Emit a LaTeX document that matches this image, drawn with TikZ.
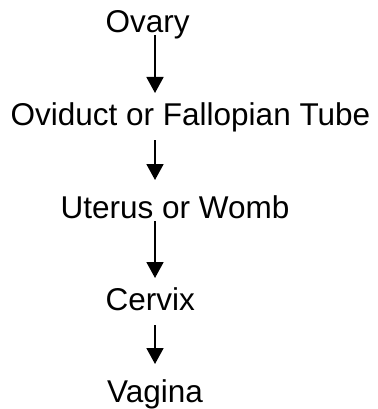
\documentclass[tikz,border=0pt]{standalone}
\usepackage{fontspec}
\setmainfont{Liberation Sans}
\usetikzlibrary{arrows.meta,calc}
\begin{document}
\begin{tikzpicture}[x=1pt,y=-1pt,
  lbl/.style={anchor=base west,inner sep=0pt,font=\fontsize{31.5}{36}\selectfont},
  arr/.style={line width=1.8pt,-{Triangle[width=17pt,length=16pt]}}]
\useasboundingbox (0,0) rectangle (377,409);
\node[lbl] (ovary) at (105.5,33) {Ovary};
\node[lbl] (oviduct) at (10.5,125) {Oviduct or Fallopian Tube};
\node[lbl] (uterus) at (60.5,218) {Uterus or Womb};
\node[lbl] (cervix) at (105.5,310) {Cervix};
\node[lbl] (vagina) at (107,402) {Vagina};
\coordinate (ax) at (155,0);
\draw[arr] ($(ax|-ovary.base)+(0,2)$) -- ($(ax|-oviduct.base)+(0,-32)$);
\draw[arr] ($(ax|-oviduct.base)+(0,15)$) -- ($(ax|-uterus.base)+(0,-38)$);
\draw[arr] ($(ax|-uterus.base)+(0,3)$) -- ($(ax|-cervix.base)+(0,-32)$);
\draw[arr] ($(ax|-cervix.base)+(0,15)$) -- ($(ax|-vagina.base)+(0,-38)$);
\end{tikzpicture}
\end{document}
